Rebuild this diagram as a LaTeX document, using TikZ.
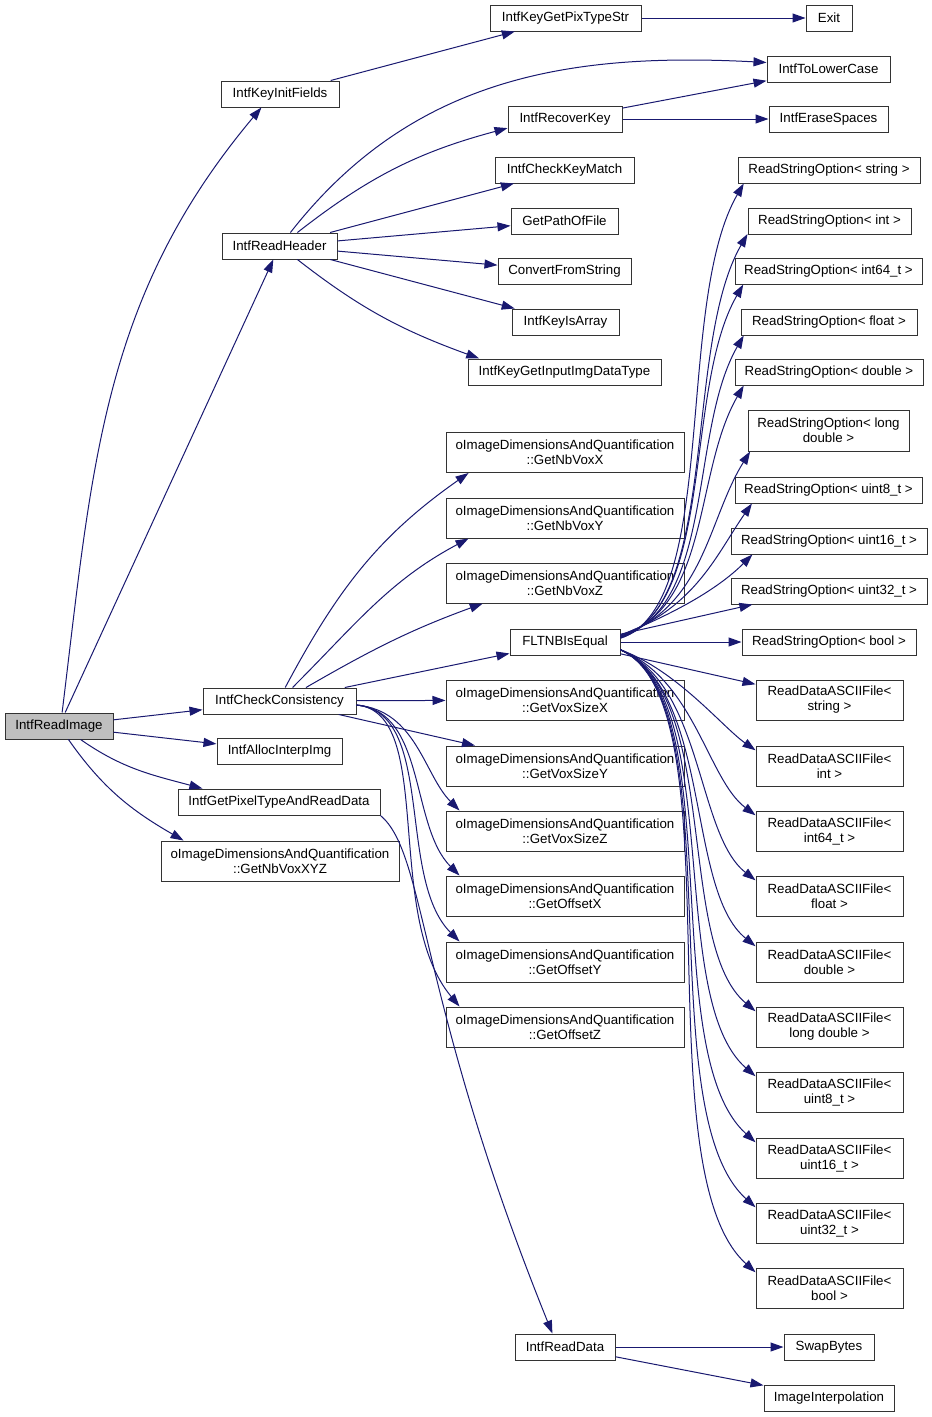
\documentclass[tikz,border=0pt]{standalone}
\usepackage{fontspec}
\setmainfont{Liberation Sans}
\usetikzlibrary{arrows.meta}
\definecolor{edgeblue}{RGB}{25,25,112}
\definecolor{rootgray}{RGB}{191,191,191}
\tikzset{
  fn/.style={draw=black!80,line width=1pt,minimum height=26pt,inner sep=0pt,align=center,font=\fontsize{13.3}{15}\selectfont},
  fn two/.style={fn,minimum height=40pt},
  root fn/.style={fn,fill=rootgray},
  call/.style={-{Triangle[length=13pt,width=9pt]},edgeblue,line width=1pt},
}
\begin{document}
\begin{tikzpicture}[x=1pt,y=-1pt]
  \useasboundingbox (0,0) rectangle (932,1417);
  % left column
  \node[root fn,minimum width=108pt] (readimg) at (59,726) {IntfReadImage};
  \node[fn,minimum width=118pt] (keyinit) at (280,94) {IntfKeyInitFields};
  \node[fn,minimum width=115pt] (readhdr) at (279.5,246) {IntfReadHeader};
  \node[fn,minimum width=153pt] (checkcons) at (279.5,701) {IntfCheckConsistency};
  \node[fn,minimum width=125pt] (allocimg) at (279.5,751) {IntfAllocInterpImg};
  \node[fn,minimum width=202pt] (pixread) at (279,802) {IntfGetPixelTypeAndReadData};
  \node[fn two,minimum width=238pt] (nbvoxxyz) at (280,861) {oImageDimensionsAndQuantification\\::GetNbVoxXYZ};
  % middle column
  \node[fn,minimum width=151pt] (pixtypestr) at (565.5,18) {IntfKeyGetPixTypeStr};
  \node[fn,minimum width=114pt] (recoverkey) at (565,119) {IntfRecoverKey};
  \node[fn,minimum width=139pt] (checkkey) at (564.5,170) {IntfCheckKeyMatch};
  \node[fn,minimum width=107pt] (pathfile) at (564.5,221) {GetPathOfFile};
  \node[fn,minimum width=133pt] (convstr) at (564.5,271) {ConvertFromString};
  \node[fn,minimum width=107pt] (keyarray) at (565.5,322) {IntfKeyIsArray};
  \node[fn,minimum width=193pt] (inputtype) at (564.5,372) {IntfKeyGetInputImgDataType};
  \node[fn two,minimum width=238pt] (nbvoxx) at (565,452.5) {oImageDimensionsAndQuantification\\::GetNbVoxX};
  \node[fn two,minimum width=238pt] (nbvoxy) at (565,518) {oImageDimensionsAndQuantification\\::GetNbVoxY};
  \node[fn two,minimum width=238pt] (nbvoxz) at (565,583) {oImageDimensionsAndQuantification\\::GetNbVoxZ};
  \node[fn,minimum width=110pt] (fltequal) at (565,642) {FLTNBIsEqual};
  \node[fn two,minimum width=238pt] (voxsizex) at (565,700) {oImageDimensionsAndQuantification\\::GetVoxSizeX};
  \node[fn two,minimum width=238pt] (voxsizey) at (565,766) {oImageDimensionsAndQuantification\\::GetVoxSizeY};
  \node[fn two,minimum width=238pt] (voxsizez) at (565,831) {oImageDimensionsAndQuantification\\::GetVoxSizeZ};
  \node[fn two,minimum width=238pt] (offsetx) at (565,896) {oImageDimensionsAndQuantification\\::GetOffsetX};
  \node[fn two,minimum width=238pt] (offsety) at (565,962) {oImageDimensionsAndQuantification\\::GetOffsetY};
  \node[fn two,minimum width=238pt] (offsetz) at (565,1027) {oImageDimensionsAndQuantification\\::GetOffsetZ};
  \node[fn,minimum width=100pt] (readdata) at (565,1347) {IntfReadData};
  % right column
  \node[fn,minimum width=46pt] (exitfn) at (829,18) {Exit};
  \node[fn,minimum width=123pt] (lowercase) at (828.5,69) {IntfToLowerCase};
  \node[fn,minimum width=119pt] (erasesp) at (828.5,119) {IntfEraseSpaces};
  \node[fn,minimum width=182pt] (rsostring) at (829,170) {ReadStringOption< string >};
  \node[fn,minimum width=163pt] (rsoint) at (829.5,221) {ReadStringOption< int >};
  \node[fn,minimum width=187pt] (rsoint64) at (828.5,271) {ReadStringOption< int64\_t >};
  \node[fn,minimum width=176pt] (rsofloat) at (829,322) {ReadStringOption< float >};
  \node[fn,minimum width=188pt] (rsodouble) at (829,372) {ReadStringOption< double >};
  \node[fn two,minimum width=161pt,minimum height=41pt] (rsolong) at (828.5,430.5) {ReadStringOption< long\\double >};
  \node[fn,minimum width=187pt] (rsouint8) at (828.5,490) {ReadStringOption< uint8\_t >};
  \node[fn,minimum width=196pt] (rsouint16) at (829,541) {ReadStringOption< uint16\_t >};
  \node[fn,minimum width=196pt] (rsouint32) at (829,591) {ReadStringOption< uint32\_t >};
  \node[fn,minimum width=174pt] (rsobool) at (829,642) {ReadStringOption< bool >};
  \node[fn two,minimum width=147pt] (rdastring) at (829.5,700) {ReadDataASCIIFile<\\string >};
  \node[fn two,minimum width=147pt] (rdaint) at (829.5,766) {ReadDataASCIIFile<\\int >};
  \node[fn two,minimum width=147pt] (rdaint64) at (829.5,831) {ReadDataASCIIFile<\\int64\_t >};
  \node[fn two,minimum width=147pt] (rdafloat) at (829.5,896) {ReadDataASCIIFile<\\float >};
  \node[fn two,minimum width=147pt] (rdadouble) at (829.5,962) {ReadDataASCIIFile<\\double >};
  \node[fn two,minimum width=147pt] (rdalong) at (829.5,1027) {ReadDataASCIIFile<\\long double >};
  \node[fn two,minimum width=147pt] (rdauint8) at (829.5,1092) {ReadDataASCIIFile<\\uint8\_t >};
  \node[fn two,minimum width=147pt] (rdauint16) at (829.5,1158) {ReadDataASCIIFile<\\uint16\_t >};
  \node[fn two,minimum width=147pt] (rdauint32) at (829.5,1223) {ReadDataASCIIFile<\\uint32\_t >};
  \node[fn two,minimum width=147pt] (rdabool) at (829.5,1288) {ReadDataASCIIFile<\\bool >};
  \node[fn,minimum width=90pt] (swapbytes) at (829,1347) {SwapBytes};
  \node[fn,minimum width=130pt] (imginterp) at (829,1398) {ImageInterpolation};
  % calls of IntfReadImage
  \draw[call] (readimg.77) to[out=83,in=230] (keyinit.216);
  \draw[call] (readimg) -- (readhdr);
  \draw[call] (readimg) -- (checkcons);
  \draw[call] (readimg) -- (allocimg);
  \draw[call] (readimg.-32) to[out=-35,in=165] (pixread.170);
  \draw[call] (readimg.-55) to[out=-55,in=150] (nbvoxxyz.168);
  % header reading
  \draw[call] (keyinit) -- (pixtypestr);
  \draw[call] (pixtypestr) -- (exitfn);
  \draw[call] (readhdr.51) to[out=52,in=177] (lowercase.174);
  \draw[call] (readhdr.37) to[out=38,in=195] (recoverkey.189);
  \draw[call] (readhdr) -- (checkkey);
  \draw[call] (readhdr) -- (pathfile);
  \draw[call] (readhdr) -- (convstr);
  \draw[call] (readhdr) -- (keyarray);
  \draw[call] (readhdr.-37) to[out=-38,in=160] (inputtype.171);
  \draw[call] (recoverkey) -- (lowercase);
  \draw[call] (recoverkey) -- (erasesp);
  % consistency checks
  \draw[call] (checkcons.67) to[out=62,in=215] (nbvoxx.192);
  \draw[call] (checkcons.46) to[out=45,in=208] (nbvoxy.192);
  \draw[call] (checkcons.27) to[out=30,in=200] (nbvoxz.194);
  \draw[call] (checkcons) -- (fltequal);
  \draw[call] (checkcons) -- (voxsizex);
  \draw[call] (checkcons) -- (voxsizey);
  \draw[call] (checkcons.-3) to[out=-5,in=135,out distance=60pt,in distance=50pt] (voxsizez.169);
  \draw[call] (checkcons.-3) to[out=-5,in=135,out distance=70pt,in distance=70pt] (offsetx.169);
  \draw[call] (checkcons.-3) to[out=-5,in=135,out distance=80pt,in distance=90pt] (offsety.169);
  \draw[call] (checkcons.-3) to[out=-5,in=130,out distance=80pt,in distance=120pt] (offsetz.169);
  % data reading
  \draw[call] (pixread.south east) to[out=-40,in=112,out distance=60pt,in distance=360pt] (readdata.133);
  \draw[call] (readdata) -- (swapbytes);
  \draw[call] (readdata) -- (imginterp);
  % FLTNBIsEqual
  \draw[call] (fltequal.4) to[out=18,in=240,out distance=105pt,in distance=140pt] (rsostring.189);
  \draw[call] (fltequal.4) to[out=18,in=240,out distance=105pt,in distance=130pt] (rsoint.189);
  \draw[call] (fltequal.5) to[out=18,in=240,out distance=100pt,in distance=120pt] (rsoint64.189);
  \draw[call] (fltequal.5) to[out=18,in=240,out distance=100pt,in distance=110pt] (rsofloat.189);
  \draw[call] (fltequal.6) to[out=18,in=240,out distance=95pt,in distance=100pt] (rsodouble.189);
  \draw[call] (fltequal.6) to[out=20,in=238,out distance=90pt,in distance=80pt] (rsolong.195);
  \draw[call] (fltequal.7) to[out=20,in=235,out distance=80pt,in distance=60pt] (rsouint8.190);
  \draw[call] (fltequal.7) to[out=22,in=225,out distance=65pt,in distance=45pt] (rsouint16.190);
  \draw[call] (fltequal.8) -- (rsouint32.190);
  \draw[call] (fltequal) -- (rsobool);
  \draw[call] (fltequal.-12) -- (rdastring.168);
  \draw[call] (fltequal.-8) to[out=-20,in=145,out distance=60pt,in distance=40pt] (rdaint.168);
  \draw[call] (fltequal.-8) to[out=-22,in=143,out distance=80pt,in distance=60pt] (rdaint64.168);
  \draw[call] (fltequal.-8) to[out=-23,in=142,out distance=90pt,in distance=75pt] (rdafloat.168);
  \draw[call] (fltequal.-8) to[out=-24,in=141,out distance=100pt,in distance=90pt] (rdadouble.168);
  \draw[call] (fltequal.-8) to[out=-24,in=140,out distance=110pt,in distance=105pt] (rdalong.168);
  \draw[call] (fltequal.-8) to[out=-24,in=139,out distance=115pt,in distance=120pt] (rdauint8.168);
  \draw[call] (fltequal.-8) to[out=-24,in=138,out distance=120pt,in distance=135pt] (rdauint16.168);
  \draw[call] (fltequal.-8) to[out=-24,in=138,out distance=125pt,in distance=145pt] (rdauint32.168);
  \draw[call] (fltequal.-8) to[out=-24,in=138,out distance=130pt,in distance=155pt] (rdabool.168);
\end{tikzpicture}
\end{document}
